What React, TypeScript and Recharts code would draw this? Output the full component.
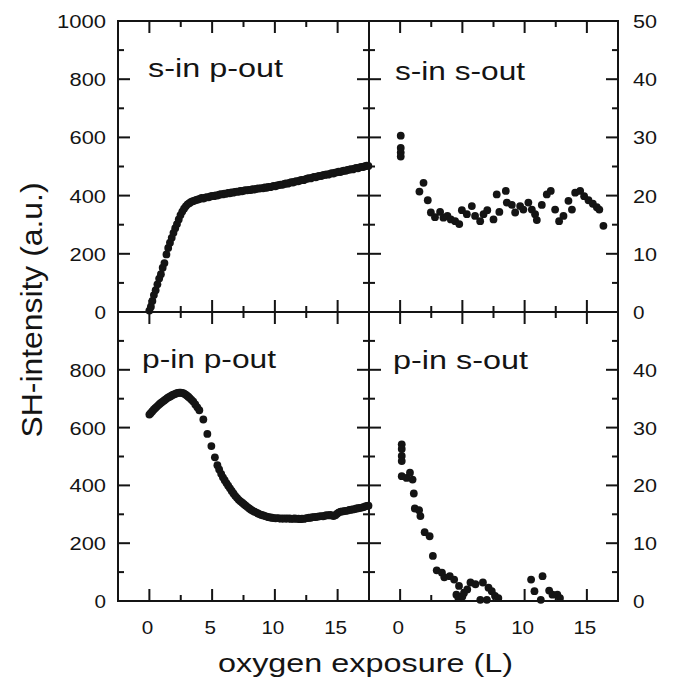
import React from 'react';
import { ScatterChart, Scatter, XAxis, YAxis } from 'recharts';

// ---------- data ----------
// s-in p-out (left axis, a.u.)
const spExposure = [
  0.0, 0.12, 0.24, 0.36, 0.5, 0.64, 0.78, 0.92, 1.06, 1.2, 1.36, 1.5, 1.64, 1.78, 1.92, 2.06, 2.2, 2.34, 2.48, 2.62, 2.76, 2.9, 3.04, 3.18, 3.32, 3.46, 3.6, 3.74, 3.88,
  4.02, 4.16, 4.3, 4.44, 4.58, 4.72, 4.86, 5.0, 5.14, 5.28, 5.42, 5.56, 5.7, 5.84, 5.98, 6.12, 6.26, 6.4, 6.54, 6.68, 6.82, 6.96, 7.1, 7.24, 7.38, 7.52, 7.66, 7.8, 7.94, 8.08,
  8.22, 8.36, 8.5, 8.64, 8.78, 8.92, 9.06, 9.2, 9.34, 9.48, 9.62, 9.76, 9.9, 10.04, 10.18, 10.32, 10.46, 10.6, 10.74, 10.88, 11.02, 11.16, 11.3, 11.44, 11.58, 11.72, 11.86,
  12.0, 12.14, 12.28, 12.42, 12.56, 12.7, 12.84, 12.98, 13.12, 13.26, 13.4, 13.54, 13.68, 13.82, 13.96, 14.1, 14.24, 14.38, 14.52, 14.66, 14.8, 14.94, 15.08, 15.22, 15.36,
  15.5, 15.64, 15.78, 15.92, 16.06, 16.2, 16.34, 16.48, 16.62, 16.76, 16.9, 17.04, 17.18, 17.32, 17.45,
];
const spIntensity = [
  5, 18, 38, 58, 75, 95, 115, 130, 152, 168, 198, 220, 238, 255, 272, 288, 302, 318, 333, 345, 355, 363, 370, 374, 378, 381, 383, 385, 387,
  389, 392, 390, 393, 395, 394, 397, 399, 398, 401, 400, 403, 405, 404, 407, 406, 409, 408, 411, 410, 413, 414, 413, 416, 415, 417, 419, 418, 420, 419,
  422, 421, 423, 425, 424, 426, 425, 428, 427, 430, 429, 431, 433, 432, 435, 436, 438, 437, 440, 442, 441, 444, 446, 445, 448, 450, 449,
  452, 454, 453, 456, 458, 460, 459, 462, 464, 463, 466, 468, 467, 470, 471, 473, 472, 475, 477, 476, 479, 480, 482, 481, 484,
  486, 485, 488, 489, 491, 490, 493, 495, 494, 497, 499, 498, 501, 503, 502,
];

// s-in s-out (right axis)
const ssExposure = [
  0.05, 0.05, 0.05, 0.05, 1.55, 1.88, 2.22, 2.47, 2.8, 3.21, 3.48, 3.8, 4.07, 4.42, 4.75, 4.96, 5.36, 5.76, 6.02, 6.43, 6.7, 7.0, 7.5, 7.76, 7.97,
  8.49, 8.57, 8.97, 9.24, 9.64, 9.9, 10.3, 10.58, 10.84, 10.98, 11.38, 11.78, 12.1, 12.45, 12.77, 13.12, 13.52, 13.8, 14.06, 14.46, 14.78, 15.13, 15.48, 15.8, 16.0, 16.33,
];
const ssIntensity = [
  30.3, 28.2, 27.4, 26.7, 20.7, 22.2, 19.2, 17.1, 16.3, 17.2, 16.2, 16.5, 15.9, 15.6, 15.1, 17.5, 16.8, 18.2, 16.5, 15.6, 16.8, 17.5, 15.9, 20.2, 17.2,
  20.8, 18.8, 18.4, 17.1, 18.2, 17.6, 18.8, 17.6, 16.8, 15.8, 18.4, 20.2, 20.8, 17.6, 15.6, 16.5, 19.1, 17.6, 20.5, 20.8, 19.9, 19.2, 18.6, 18.0, 17.6, 14.8,
];

// p-in p-out (left axis, a.u.)
const ppExposure = [
  0.0, 0.1, 0.22, 0.34, 0.46, 0.58, 0.7, 0.82, 0.94, 1.06, 1.18, 1.3, 1.42, 1.54, 1.66, 1.78, 1.9, 2.02, 2.14, 2.26, 2.38, 2.5, 2.62, 2.74, 2.86, 2.98, 3.1, 3.22, 3.36,
  3.5, 3.66, 3.82, 3.98, 4.3, 4.62, 4.94, 5.22, 5.42, 5.56, 5.72, 5.86, 6.0, 6.14, 6.28, 6.42, 6.56, 6.7, 6.84, 6.98, 7.12, 7.26, 7.4, 7.54, 7.68, 7.82, 7.96,
  8.1, 8.24, 8.38, 8.52, 8.66, 8.8, 8.94, 9.08, 9.22, 9.36, 9.5, 9.64, 9.78, 9.92, 10.06, 10.2, 10.34, 10.48, 10.62, 10.76, 10.9, 11.04, 11.18, 11.32, 11.46,
  11.6, 11.74, 11.88, 12.02, 12.16, 12.3, 12.44, 12.58, 12.72, 12.86, 13.0, 13.14, 13.28, 13.42, 13.56, 13.7, 13.84, 13.98, 14.12, 14.26, 14.4, 14.54, 14.68,
  14.82, 14.96, 15.1, 15.24, 15.38, 15.52, 15.66, 15.8, 15.94, 16.08, 16.22, 16.36, 16.5, 16.64, 16.78, 16.92, 17.06, 17.2, 17.34, 17.46,
];
const ppIntensity = [
  645, 650, 656, 662, 667, 672, 677, 682, 686, 690, 694, 698, 702, 705, 708, 711, 714, 716, 718, 720, 721, 721, 720, 718, 715, 711, 707, 702, 696,
  690, 680, 670, 660, 628, 578, 536, 497, 470, 455, 440, 428, 418, 408, 399, 390, 381, 372, 364, 357, 350, 345, 340, 335, 330, 325, 320,
  316, 312, 309, 306, 303, 300, 298, 296, 294, 292, 290, 289, 288, 287, 286, 287, 286, 285, 286, 285, 286, 285, 286, 284, 285,
  286, 284, 285, 283, 285, 284, 286, 287, 288, 288, 290, 290, 291, 292, 293, 294, 293, 295, 297, 296, 298, 296, 294,
  297, 302, 307, 309, 310, 311, 312, 313, 315, 316, 317, 318, 320, 321, 322, 323, 325, 327, 329, 330,
];

// p-in s-out (right axis)
const psExposure = [
  0.13, 0.13, 0.13, 0.13, 0.13, 0.52, 0.79, 1.0, 1.1, 1.18, 1.52, 1.63, 1.97, 2.37, 2.63, 2.94, 3.36, 3.55, 3.99, 4.34, 4.52, 4.68, 4.73, 5.0, 5.13,
  5.39, 5.65, 6.05, 6.44, 6.65, 6.97, 7.1, 7.36, 7.62, 7.89, 10.52, 10.79, 11.3, 11.44, 11.97, 12.24, 12.63, 12.84,
];
const psIntensity = [
  27.1, 26.3, 25.1, 24.2, 21.6, 21.3, 22.2, 21.0, 18.6, 16.0, 15.7, 14.7, 11.9, 11.2, 7.8, 5.3, 4.9, 4.1, 4.3, 3.7, 1.1, 0.5, 2.6, 0.8, 1.4,
  2.0, 3.2, 2.9, 0.2, 3.2, 0.2, 2.3, 1.7, 0.9, 0.5, 3.7, 1.7, 0.2, 4.3, 1.8, 1.1, 1.1, 0.5,
];

// ticks
const xMajorTicks = [0, 5, 10, 15];
const xMinorTicks = [2.5, 7.5, 12.5];
const xLabels = [0, 5, 10, 15];
const leftMajorTicks = [0, 200, 400, 600, 800, 1000];
const leftMinorTicks = [100, 300, 500, 700, 900];
const topLeftLabels = [0, 200, 400, 600, 800, 1000];
const bottomLeftLabels = [0, 200, 400, 600, 800];
const rightMajorTicks = [0, 10, 20, 30, 40, 50];
const rightMinorTicks = [5, 15, 25, 35, 45];
const topRightLabels = [0, 10, 20, 30, 40, 50];
const bottomRightLabels = [0, 10, 20, 30, 40];

const zip = (xs: number[], ys: number[]) => xs.map((x, i) => ({ x, y: ys[i] }));
const spData = zip(spExposure, spIntensity);
const ssData = zip(ssExposure, ssIntensity);
const ppData = zip(ppExposure, ppIntensity);
const psData = zip(psExposure, psIntensity);

// ---------- drawing ----------
const INK = '#141414';
const FONT = '"Liberation Sans", Arial, Helvetica, sans-serif';
const W = 677;
const H = 684;
const X0 = 118, XM = 369, X1 = 618;
const Y0 = 21, YM = 312, Y1 = 601;
const XMIN = -2.5, XMAX = 17.5;
const MAJOR = 12;
const MINOR = 6;
const TW = 2; // tick thickness

type Side = 'left' | 'right' | 'bottom';

function labelTick(side: Side, labels: number[]) {
  return (props: any) => {
    const { x, y, payload } = props;
    const v = Number(payload.value);
    if (!labels.includes(v)) return <g />;
    const s = String(v);
    if (side === 'left') {
      return (
        <text x={x - 12} y={y + 7} textAnchor="end" fontSize={19} fontFamily={FONT} fill={INK}
          textLength={s.length * 12.5 - 1} lengthAdjust="spacingAndGlyphs">{s}</text>
      );
    }
    if (side === 'right') {
      return (
        <text x={x + 15} y={y + 7} textAnchor="start" fontSize={19} fontFamily={FONT} fill={INK}
          textLength={s.length * 12.5 - 1} lengthAdjust="spacingAndGlyphs">{s}</text>
      );
    }
    return (
      <text x={x - 2} y={y + 33} textAnchor="middle" fontSize={19} fontFamily={FONT} fill={INK}
        textLength={s.length * 11.5} lengthAdjust="spacingAndGlyphs">{s}</text>
    );
  };
}
const noLabel = () => <g />;

const dot = (p: any) => <circle cx={p.cx} cy={p.cy} r={3.9} fill={INK} />;

// tick mark drawn as a thin filled bar at the scaled tick position (pointing into the panel)
const tickMark = (p: any) => {
  const { cx, cy, payload } = p;
  const len = payload.major ? MAJOR : MINOR;
  const h = TW / 2;
  if (payload.side === 'left') return <rect x={cx} y={cy - h} width={len} height={TW} fill={INK} />;
  if (payload.side === 'right') return <rect x={cx - len} y={cy - h} width={len} height={TW} fill={INK} />;
  if (payload.side === 'bottom') return <rect x={cx - h} y={cy - len} width={TW} height={len} fill={INK} />;
  return <rect x={cx - h} y={cy} width={TW} height={len} fill={INK} />;
};

const axisLine = { stroke: INK, strokeWidth: 2, strokeLinecap: 'square' as const };

interface PanelProps {
  data: { x: number; y: number }[];
  left: number; top: number; right: number; bottom: number;
  yMax: number; yMajor: number[]; yMinor: number[];
  leftLabels: number[]; rightLabels: number[]; bottomLabels: number[];
}

function Panel(p: PanelProps) {
  const xDom: [number, number] = [XMIN, XMAX];
  const yDom: [number, number] = [0, p.yMax];
  const marks: { x: number; y: number; side: string; major: boolean }[] = [];
  const yAll: [number, boolean][] = [
    ...p.yMajor.map((v) => [v, true] as [number, boolean]),
    ...p.yMinor.map((v) => [v, false] as [number, boolean]),
  ].filter(([v]) => v > 0 && v < p.yMax);
  yAll.forEach(([v, major]) => {
    marks.push({ x: XMIN, y: v, side: 'left', major });
    marks.push({ x: XMAX, y: v, side: 'right', major });
  });
  const xAll: [number, boolean][] = [
    ...xMajorTicks.map((v) => [v, true] as [number, boolean]),
    ...xMinorTicks.map((v) => [v, false] as [number, boolean]),
  ];
  xAll.forEach(([v, major]) => {
    marks.push({ x: v, y: 0, side: 'bottom', major });
    marks.push({ x: v, y: p.yMax, side: 'top', major });
  });
  return (
    <div style={{ position: 'absolute', left: 0, top: 0, width: W, height: H }}>
      <ScatterChart width={W} height={H}
        margin={{ left: p.left - 1, top: p.top - 1, right: W - p.right - 1, bottom: H - p.bottom - 1 }}>
        <XAxis xAxisId="b" type="number" dataKey="x" domain={xDom} ticks={xMajorTicks} interval={0}
          orientation="bottom" height={1} tickSize={0} tickMargin={0} tickLine={false} axisLine={axisLine}
          tick={labelTick('bottom', p.bottomLabels)} />
        <XAxis xAxisId="t" type="number" dataKey="x" domain={xDom} ticks={xMajorTicks} interval={0}
          orientation="top" height={1} tickSize={0} tickMargin={0} tickLine={false} axisLine={axisLine}
          tick={noLabel} allowDataOverflow />
        <YAxis yAxisId="l" type="number" dataKey="y" domain={yDom} ticks={p.yMajor} interval={0}
          orientation="left" width={1} tickSize={0} tickMargin={0} tickLine={false} axisLine={axisLine}
          tick={labelTick('left', p.leftLabels)} />
        <YAxis yAxisId="r" type="number" dataKey="y" domain={yDom} ticks={p.yMajor} interval={0}
          orientation="right" width={1} tickSize={0} tickMargin={0} tickLine={false} axisLine={axisLine}
          tick={labelTick('right', p.rightLabels)} allowDataOverflow />
        <Scatter data={marks} xAxisId="b" yAxisId="l" isAnimationActive={false} shape={tickMark} />
        <Scatter data={p.data} xAxisId="b" yAxisId="l" isAnimationActive={false} shape={dot} />
      </ScatterChart>
    </div>
  );
}

const titleStyle = { fontFamily: FONT, fill: INK } as const;

export default function App() {
  return (
    <div style={{ position: 'absolute', left: 0, top: 0, width: W, height: H, background: '#fff' }}>
      <Panel data={spData} left={X0} top={Y0} right={XM} bottom={YM} yMax={1000} yMajor={leftMajorTicks} yMinor={leftMinorTicks}
        leftLabels={topLeftLabels} rightLabels={[]} bottomLabels={[]} />
      <Panel data={ssData} left={XM} top={Y0} right={X1} bottom={YM} yMax={50} yMajor={rightMajorTicks} yMinor={rightMinorTicks}
        leftLabels={[]} rightLabels={topRightLabels} bottomLabels={[]} />
      <Panel data={ppData} left={X0} top={YM} right={XM} bottom={Y1} yMax={1000} yMajor={leftMajorTicks} yMinor={leftMinorTicks}
        leftLabels={bottomLeftLabels} rightLabels={[]} bottomLabels={xLabels} />
      <Panel data={psData} left={XM} top={YM} right={X1} bottom={Y1} yMax={50} yMajor={rightMajorTicks} yMinor={rightMinorTicks}
        leftLabels={[]} rightLabels={bottomRightLabels} bottomLabels={xLabels} />
      <svg width={W} height={H} style={{ position: 'absolute', left: 0, top: 0, pointerEvents: 'none' }}>
        <text x={148} y={77} fontSize={26} {...titleStyle} textLength={135} lengthAdjust="spacingAndGlyphs">s-in p-out</text>
        <text x={395} y={80} fontSize={26} {...titleStyle} textLength={130} lengthAdjust="spacingAndGlyphs">s-in s-out</text>
        <text x={142} y={368} fontSize={26} {...titleStyle} textLength={134} lengthAdjust="spacingAndGlyphs">p-in p-out</text>
        <text x={393} y={369} fontSize={26} {...titleStyle} textLength={135} lengthAdjust="spacingAndGlyphs">p-in s-out</text>
        <text x={218} y={672} fontSize={26} {...titleStyle} textLength={295} lengthAdjust="spacingAndGlyphs">oxygen exposure (L)</text>
        <text transform="translate(42, 310) rotate(-90)" x={0} y={0} textAnchor="middle" fontSize={29} {...titleStyle}
          textLength={255} lengthAdjust="spacingAndGlyphs">SH-intensity (a.u.)</text>
      </svg>
    </div>
  );
}
